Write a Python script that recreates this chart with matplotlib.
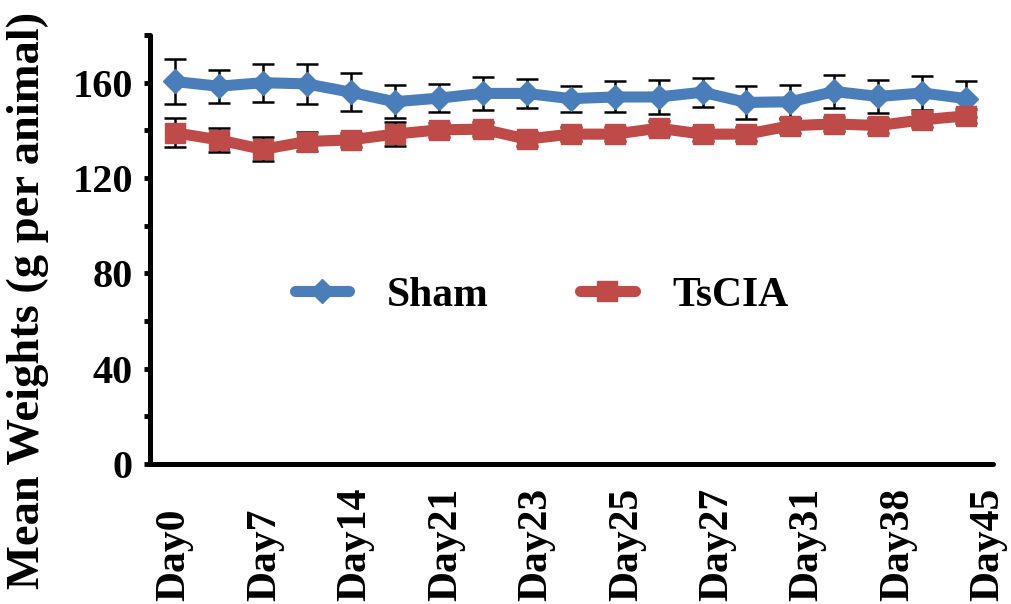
import numpy as np
import matplotlib
matplotlib.use("Agg")
import matplotlib.pyplot as plt
from matplotlib.ticker import MultipleLocator

# values (g per animal), 19 weighings
day_labels = ["Day0", "Day7", "Day14", "Day21", "Day23", "Day25", "Day27", "Day31", "Day38", "Day45"]
sham = [160.5, 158.5, 160, 159.5, 156, 152, 153.5, 155.5, 155.5, 153.3,
        154, 154, 156, 151.7, 152, 156.3, 154.2, 155.7, 153.3]
sham_err = [9.5, 7, 8, 8.5, 8, 7, 6, 7, 6, 5.5, 6.5, 7, 6, 7, 7, 7, 7, 7, 7.5]
tscia = [139, 136, 132, 135.3, 136, 138.4, 140.2, 140.5, 136.3, 138.4,
         138.4, 140.9, 138.4, 138.4, 141.9, 142.7, 142, 144.4, 146.1]
tscia_err = [6, 5, 5, 4, 3, 5, 3, 3, 3, 3, 3, 3, 3, 3, 3, 3, 3, 3, 3]

BLUE = "#4A7EBB"
RED = "#BE4B48"

plt.rcParams["font.family"] = ["Liberation Serif", "DejaVu Serif"]
plt.rcParams["font.weight"] = "bold"
plt.rcParams["axes.labelweight"] = "bold"

x = np.arange(len(sham))

fig = plt.figure(figsize=(10.11, 6.04), dpi=100)
ax = fig.add_axes([0.148, 0.232, 0.834, 0.710])

ax.errorbar(x, sham, yerr=sham_err, fmt="none", ecolor="black", elinewidth=1.8,
            capsize=8, capthick=1.8, zorder=1)
ax.errorbar(x, tscia, yerr=tscia_err, fmt="none", ecolor="black", elinewidth=1.8,
            capsize=8, capthick=1.8, zorder=1)
ax.plot(x, sham, color=BLUE, lw=8, marker="D", ms=12, mfc=BLUE, mec=BLUE,
        solid_capstyle="round", solid_joinstyle="round", label="Sham", zorder=3)
ax.plot(x, tscia, color=RED, lw=8, marker="s", ms=14, mfc=RED, mec=RED,
        solid_capstyle="round", solid_joinstyle="round", label="TsCIA", zorder=3)

ax.set_xlim(-0.57, 18.6)
ax.set_ylim(0, 180)

# labels in the original are spread a bit wider than every other point
ax.set_xticks(np.linspace(0, len(sham) - 0.5, len(day_labels)))
ax.set_xticklabels(day_labels, rotation=90, ha="left", va="center",
                   rotation_mode="anchor", fontsize=30)
ax.tick_params(axis="x", length=0, pad=99)

ax.yaxis.set_major_locator(MultipleLocator(40))
ax.yaxis.set_minor_locator(MultipleLocator(20))
ax.tick_params(axis="y", which="both", direction="out", length=4, width=3.5,
               labelsize=29, pad=8)

for side in ("top", "right"):
    ax.spines[side].set_visible(False)
for side in ("left", "bottom"):
    ax.spines[side].set_linewidth(3.6)
    ax.spines[side].set_capstyle("round")

ax.set_ylabel("Mean Weights (g per animal)", fontsize=33.5, fontweight="bold")
ax.yaxis.label.set_va("center")
ax.yaxis.set_label_coords(-0.145, 0.382)

ax.legend(loc="center", bbox_to_anchor=(0.465, 0.392), ncol=2, frameon=False,
          fontsize=30, handlelength=1.3, handletextpad=0.9, columnspacing=2.2,
          numpoints=1)

fig.savefig("out.png", dpi=100)
